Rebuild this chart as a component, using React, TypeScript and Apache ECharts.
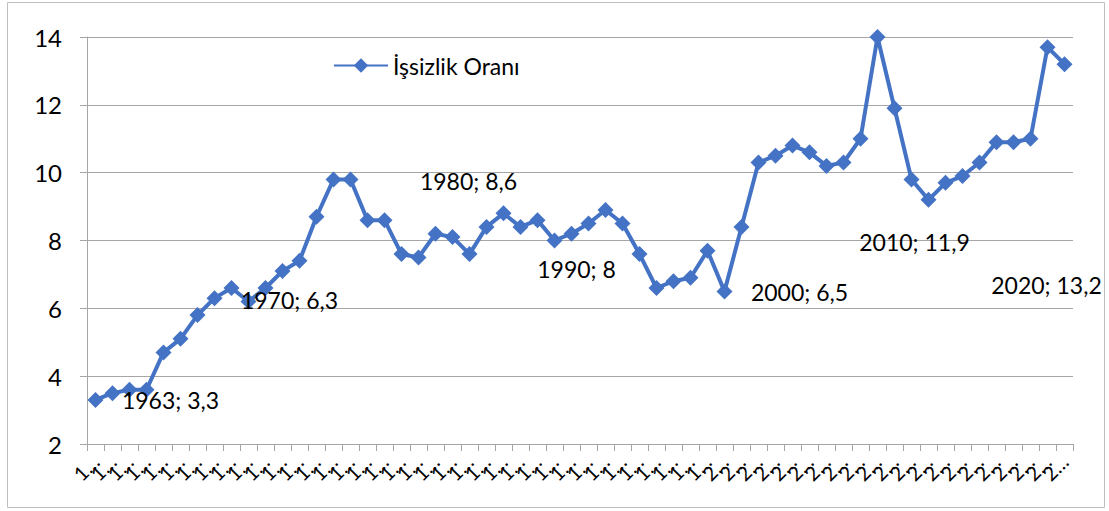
import React, { useEffect, useRef } from "react";
import * as echarts from "echarts";

const years = [
  "1963", "1964", "1965", "1966", "1967", "1968", "1969", "1970", "1971", "1972",
  "1973", "1974", "1975", "1976", "1977", "1978", "1979", "1980", "1981", "1982",
  "1983", "1984", "1985", "1986", "1987", "1988", "1989", "1990", "1991", "1992",
  "1993", "1994", "1995", "1996", "1997", "1998", "1999", "2000", "2001", "2002",
  "2003", "2004", "2005", "2006", "2007", "2008", "2009", "2010", "2011", "2012",
  "2013", "2014", "2015", "2016", "2017", "2018", "2019", "2020",
];

const unemployment = [
  3.3, 3.5, 3.6, 3.6, 4.7, 5.1, 5.8, 6.3, 6.6, 6.2,
  6.6, 7.1, 7.4, 8.7, 9.8, 9.8, 8.6, 8.6, 7.6, 7.5,
  8.2, 8.1, 7.6, 8.4, 8.8, 8.4, 8.6, 8.0, 8.2, 8.5,
  8.9, 8.5, 7.6, 6.6, 6.8, 6.9, 7.7, 6.5, 8.4, 10.3,
  10.5, 10.8, 10.6, 10.2, 10.3, 11.0, 14.0, 11.9, 9.8, 9.2,
  9.7, 9.9, 10.3, 10.9, 10.9, 11.0, 13.7, 13.2,
];

const yTicks = [2, 4, 6, 8, 10, 12, 14];
const seriesName = "İşsizlik Oranı";

// label placement (pixel offsets from the marker centre), styling only
const labelOffsets: Record<string, [number, number]> = {
  "1963": [75, 0],
  "1970": [75, 2],
  "1980": [84, -39],
  "1990": [22, 28],
  "2000": [75, 1],
  "2010": [20, 134],
  "2020": [-18, 221],
};

const FONT = "Lato, 'Open Sans', sans-serif";
const BLUE = "#4472C4";
const GRID = "#a6a6a6";

export default function App() {
  const ref = useRef<HTMLDivElement>(null);

  useEffect(() => {
    if (!ref.current) return;
    const chart = echarts.init(ref.current, undefined, { renderer: "svg" });

    const data = unemployment.map((v, i) => {
      const off = labelOffsets[years[i]];
      if (!off) return { value: v };
      return {
        value: v,
        label: {
          show: true,
          position: "inside",
          offset: off,
          align: "center",
          verticalAlign: "middle",
          formatter: `${years[i]}; ${String(v).replace(".", ",")}`,
          color: "#000",
          fontSize: 23,
          fontFamily: FONT,
        },
      };
    });

    chart.setOption({
      animation: false,
      backgroundColor: "#fff",
      textStyle: { fontFamily: FONT },
      graphic: [
        {
          type: "rect",
          shape: { x: 7.5, y: 2.5, width: 1097, height: 505 },
          style: { fill: "none", stroke: "#bfbfbf", lineWidth: 1 },
          silent: true,
          z: -10,
        },
      ],
      legend: {
        show: true,
        left: 328,
        top: 49,
        itemWidth: 54,
        itemHeight: 18,
        itemGap: 5,
        textStyle: { fontSize: 23, color: "#000", fontFamily: FONT },
        data: [seriesName],
      },
      grid: { left: 87, right: 36, top: 37, bottom: 67, containLabel: false },
      xAxis: {
        type: "category",
        data: years,
        boundaryGap: true,
        axisLine: { show: true, lineStyle: { color: GRID, width: 1 } },
        axisTick: { show: true, length: 7, lineStyle: { color: GRID } },
        axisLabel: {
          interval: 0,
          rotate: 45,
          margin: 14,
          fontSize: 20,
          color: "#000",
          fontFamily: FONT,
          formatter: (v: string) => v.charAt(0) + "…",
        },
        splitLine: { show: false },
      },
      yAxis: {
        type: "value",
        min: yTicks[0],
        max: yTicks[yTicks.length - 1],
        interval: 2,
        axisLine: { show: true, lineStyle: { color: GRID, width: 1 } },
        axisTick: { show: true, length: 7, lineStyle: { color: GRID } },
        axisLabel: { fontSize: 24, color: "#000", margin: 25, fontFamily: FONT },
        splitLine: { show: true, lineStyle: { color: GRID, width: 1 } },
      },
      series: [
        {
          name: seriesName,
          type: "line",
          data,
          symbol: "diamond",
          symbolSize: 16,
          lineStyle: { color: BLUE, width: 4 },
          itemStyle: { color: BLUE },
          label: { show: false },
          emphasis: { disabled: true },
        },
      ],
    });

    return () => chart.dispose();
  }, []);

  return (
    <div
      ref={ref}
      style={{ position: "fixed", left: 0, top: 0, width: 1109, height: 511 }}
    />
  );
}
